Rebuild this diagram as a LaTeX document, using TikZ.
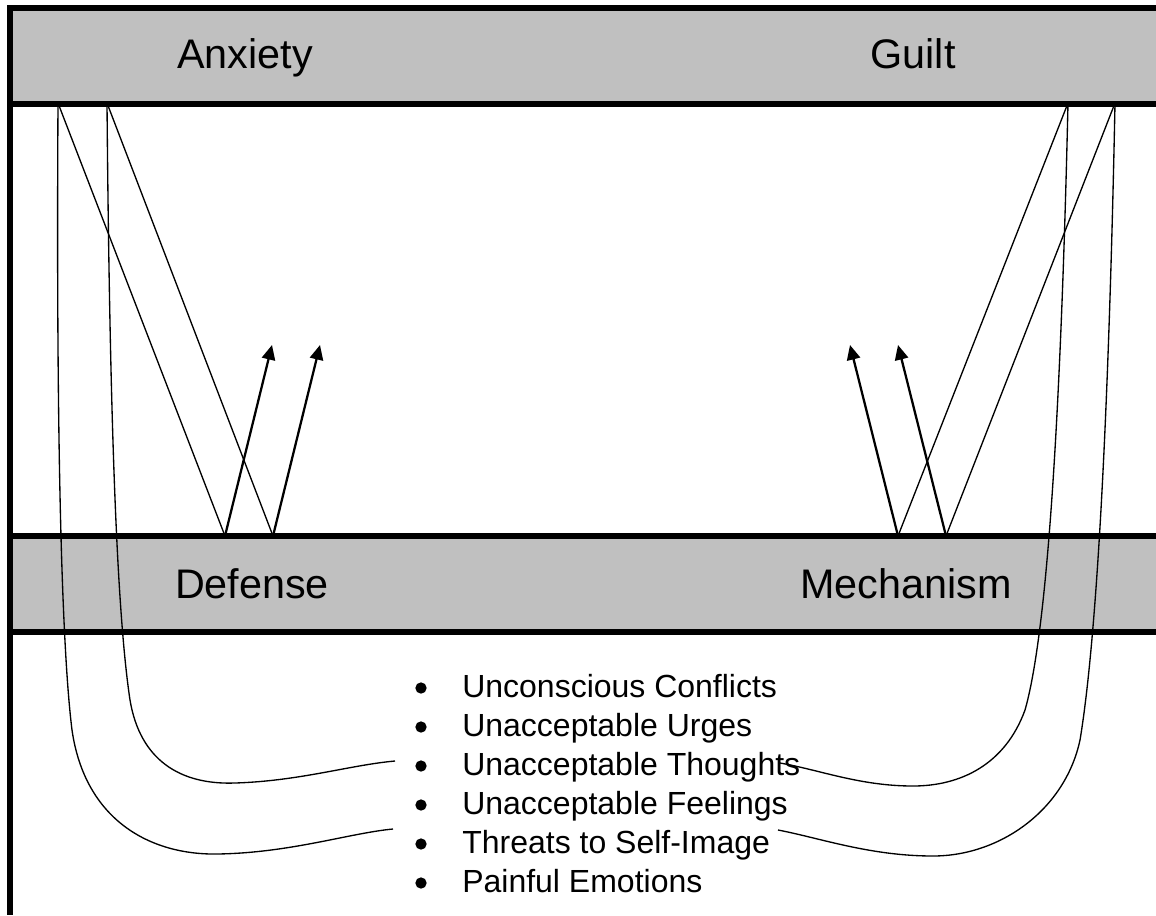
\documentclass[tikz,border=0pt]{standalone}
\usepackage{fontspec}
\setmainfont{Liberation Sans}
\usetikzlibrary{arrows.meta}

\definecolor{barfill}{HTML}{C0C0C0}

\begin{document}
\begin{tikzpicture}[
    x=0.75pt, y=-0.75pt,
    % Bar styles
    bar/.style={
        rectangle, fill=barfill, inner sep=0pt, anchor=north west,
        minimum width=859.5pt, minimum height=71.25pt
    },
    border/.style={line width=4.5pt, black},
    title/.style={font=\fontsize{31}{37}\selectfont, anchor=base, inner sep=0pt},
    item/.style={font=\fontsize{24}{29}\selectfont, anchor=base west, inner sep=0pt},
    bulletdot/.style={circle, fill=black, inner sep=0pt, minimum size=8.5pt},
    link/.style={line width=1pt},
    arr/.style={-{Triangle[length=11pt, width=10pt]}, line width=1.7pt},
]

\useasboundingbox (0,0) rectangle (1156,915);

% ═══════════════════════════════════════════════════════════════
% Bars
% ═══════════════════════════════════════════════════════════════

\node[bar] (topbar) at (10,8) {};
\node[bar] (midbar) at (10,536) {};

% End points on the bars
\coordinate (a1) at (58,103);
\coordinate (a2) at (107,103);
\coordinate (g1) at (1068,103);
\coordinate (g2) at (1115,103);
\coordinate (d1) at (225,536);
\coordinate (d2) at (273,536);
\coordinate (m1) at (898,536);
\coordinate (m2) at (946,536);

% Arrow tips
\coordinate (t1) at (272,345);
\coordinate (t2) at (320,345);
\coordinate (t3) at (850,345);
\coordinate (t4) at (898,345);

% Loose ends of the curves (next to the list)
\coordinate (e1) at (393,829);
\coordinate (e2) at (395,761);
\coordinate (e3) at (780,763);
\coordinate (e4) at (778,830);

% ═══════════════════════════════════════════════════════════════
% Lines
% ═══════════════════════════════════════════════════════════════

\draw[link] (a1) -- (d1);
\draw[link] (a2) -- (d2);
\draw[link] (g1) -- (m1);
\draw[link] (g2) -- (m2);

\draw[arr] (d1) -- (t1);
\draw[arr] (d2) -- (t2);
\draw[arr] (m1) -- (t3);
\draw[arr] (m2) -- (t4);

% Curves down to the list
\draw[link] (a1) .. controls (56,450) and (62,650) .. (72,730)
    .. controls (85,820) and (150,855) .. (217,854)
    .. controls (290,853) and (350,833) .. (e1);
\draw[link] (a2) .. controls (110,450) and (118,620) .. (130,700)
    .. controls (140,760) and (180,785) .. (235,783)
    .. controls (300,781) and (350,765) .. (e2);
\draw[link] (g1) .. controls (1060,450) and (1045,640) .. (1025,710)
    .. controls (1005,765) and (960,786) .. (913,786)
    .. controls (860,786) and (820,770) .. (e3);
\draw[link] (g2) .. controls (1108,450) and (1095,650) .. (1080,740)
    .. controls (1065,810) and (1000,856) .. (933,856)
    .. controls (870,856) and (820,838) .. (e4);

% ═══════════════════════════════════════════════════════════════
% Borders
% ═══════════════════════════════════════════════════════════════

\draw[border] (topbar.north west) -- (topbar.north east);
\draw[border] (topbar.south west) -- (topbar.south east);
\draw[border] (midbar.north west) -- (midbar.north east);
\draw[border] (midbar.south west) -- (midbar.south east);
\draw[border] (10,5) -- (10,915);

% ═══════════════════════════════════════════════════════════════
% Labels
% ═══════════════════════════════════════════════════════════════

\node[title] (anxiety) at (245,68) {Anxiety};
\node[title] (guilt) at (913,68) {Guilt};
\node[title] (defense) at (252,598) {Defense};
\node[title] (mechanism) at (906,598) {Mechanism};

% List
\foreach \txt [count=\i from 0] in {Unconscious Conflicts, Unacceptable Urges,
    Unacceptable Thoughts, Unacceptable Feelings, Threats to Self-Image,
    Painful Emotions}
{
    \node[bulletdot] (dot\i) at (421, 688+39*\i) {};
    \node[item] (item\i) at (462, 697+39*\i) {\txt};
}

\end{tikzpicture}
\end{document}
